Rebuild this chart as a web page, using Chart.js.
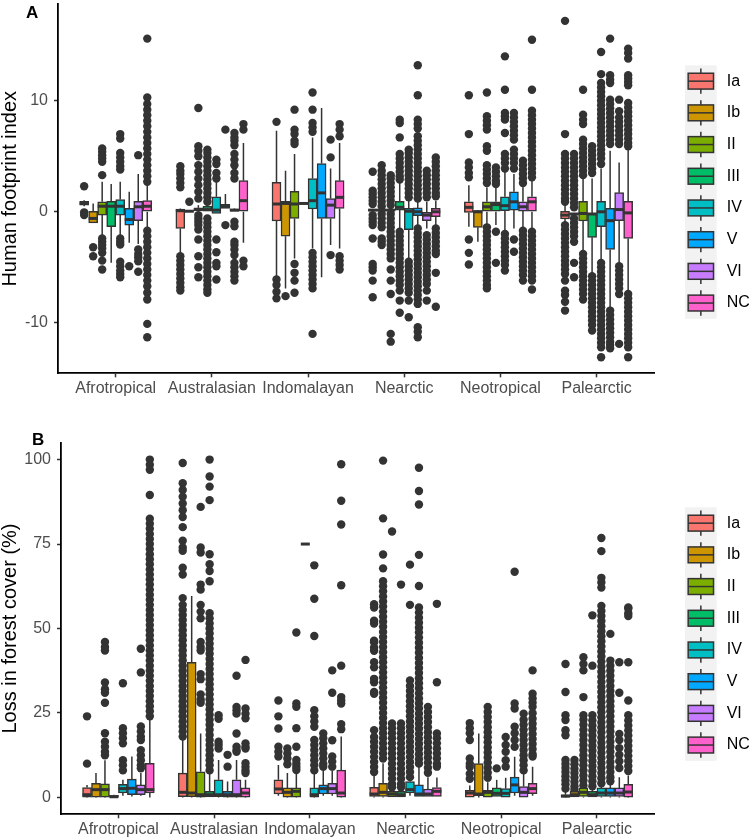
<!DOCTYPE html>
<html>
<head>
<meta charset="utf-8">
<script src="https://cdn.jsdelivr.net/npm/chart.js@4.4.0/dist/chart.umd.min.js"></script>
<style>
  body { margin: 0; background: #fff; }
  .painel { position: absolute; left: 0; width: 749px; height: 420px; }
  #painelA { top: 0; }
  #painelB { top: 420px; }
</style>
</head>
<body>
<div class="painel" id="painelA"><canvas id="chartA" width="749" height="420"></canvas></div>
<div class="painel" id="painelB"><canvas id="chartB" width="749" height="420"></canvas></div>
<script>
const regions = ['Afrotropical', 'Australasian', 'Indomalayan', 'Nearctic', 'Neotropical', 'Palearctic'];
const classes = ['Ia', 'Ib', 'II', 'III', 'IV', 'V', 'VI', 'NC'];
const hfpTicks = [-10, 0, 10];
const lossTicks = [0, 25, 50, 75, 100];

// [low whisker, q1, median, q3, high whisker] per class, per region
const hfpStats = [
  [[0.5, 0.6, 0.75, 0.95, 1.05], [-3.9, -1.5, 0.1, 0.25, 0.3], [-5.8, -0.83, 0.7, 2.65, 7.3], [0.1, 0.1, 0.15, 0.2, 0.2], [-1.35, -0.06, 0.4, 0.9, 2.4], [-1.0, -0.65, -0.3, 0.05, 0.7]],
  [[-1.0, -1.0, -0.6, 0.05, 0.75], [0, 0, 0.05, 0.1, 0.1], [-6.9, -2.2, 0.75, 0.95, 3.7], [0.1, 0.1, 0.15, 0.2, 0.2], [-2.7, -1.4, 0.0, 0.1, 0.15], [-0.2, -0.2, -0.2, -0.15, -0.15]],
  [[-2.2, -0.3, 0.5, 0.9, 2.7], [0.1, 0.1, 0.2, 0.35, 0.6], [-4.2, -0.6, 0.7, 1.85, 5.2], [0.1, 0.1, 0.15, 0.2, 0.2], [-1.2, 0.0, 0.45, 0.9, 2.2], [-3.6, -0.83, -0.15, 0.95, 3.0]],
  [[-4.6, -1.35, 0.5, 0.95, 2.5], [0, 0, 0.2, 0.5, 0.7], [0.75, 0.75, 0.75, 0.75, 0.75], [-1.5, 0.15, 0.4, 0.95, 2.7], [-1.2, 0.0, 0.65, 0.9, 2.3], [-5.6, -2.3, -0.2, -0.15, 3.0]],
  [[-2.1, -0.3, 0.5, 1.1, 2.7], [-0.15, -0.15, 0.15, 1.35, 2.7], [-3.3, 0.25, 1.0, 3.0, 6.7], [-4.3, -1.6, 0.05, 0.3, 1.0], [-1.8, 0.1, 0.55, 1.35, 3.7], [-4.4, -1.35, 0.0, 0.95, 3.9]],
  [[-2.8, -1.2, -0.7, 0.3, 1.8], [0.3, 0.3, 0.5, 0.68, 1.6], [-5.9, -0.6, 1.7, 4.35, 9.35], [-1.3, -0.35, 0.0, 0.35, 1.0], [-1.5, 0.15, 0.9, 1.8, 3.4], [-8.7, -3.4, -0.8, 0.3, 5.5]],
  [[-2.9, -0.8, 0.45, 0.95, 3.4], [0.05, 0.05, 0.15, 0.25, 0.3], [-3.0, -0.6, 0.6, 1.2, 3.9], [-1.5, -0.8, -0.3, -0.05, 0.9], [-1.5, 0.06, 0.45, 0.9, 2.3], [-4.6, -0.8, 0.2, 1.72, 4.45]],
  [[-1.5, 0.0, 0.5, 1.0, 2.5], [-2.8, 0.0, 1.0, 2.8, 6.2], [-3.3, 0.3, 1.3, 2.8, 6.2], [-1.2, -0.45, 0.0, 0.3, 1.0], [-1.6, 0.0, 0.9, 1.35, 2.8], [-7.2, -2.4, -0.1, 0.95, 5.6]]
];

const hfpOutliers = [
  [ // Ia
    [2.3, -0.05, -0.3],
    [4.1, 3.7, 3.4, 3.0, 2.6, 2.2, -4.0, -4.4, -4.8, -5.2, -5.6, -6.0, -6.4, -6.8, -7.1],
    [8.1, -6.1, -6.6, -7.2, -7.8],
    [3.6, 1.9, 1.6, 1.3, 1.0, 0.7, -0.3, -0.6, -0.9, -1.2, -2.4, -4.7, -5.0, -5.3, -6.2, -7.7],
    [10.5, 7.0, 4.45, 4.0, 3.5, 3.1, -2.5, -3.7, -4.75],
    [17.2, 7.0, 5.2, 4.8, 4.4, 4.0, 3.6, 3.2, 2.8, 2.4, 2.0, 1.6, 1.2, 0.9, -1.2, -1.6, -2.0, -2.4, -2.8, -3.2, -3.6, -4.0, -4.4, -4.8, -5.2, -5.6, -6.2, -7.1, -7.5, -8.1, -8.9]
  ],
  [ // Ib
    [-3.2, -4.0],
    [0.9],
    [-7.6],
    [4.2, 3.7, 3.3, 2.9, 2.5, 2.1, 1.7, 1.3, 0.9, 0.5, -0.2, -0.6, -1.0, -1.4, -2.4, -2.7, -3.0],
    [],
    [5.2, 4.8, 4.4, 4.0, 3.6, 3.2, 2.8, 2.4, 2.0, 1.6, 1.2, 0.8, 0.4, -0.6, -1.0, -1.4, -1.8, -2.2, -2.7, -4.6, -5.9]
  ],
  [ // II
    [5.7, 5.4, 5.1, 4.8, 4.5, 3.3, -2.4, -2.7, -3.0, -3.3, -3.7, -4.4, -5.2],
    [9.35, 5.9, 5.5, 5.0, 4.2, 3.6, 3.0, 2.4, 1.8, 1.2, -0.3, -0.6, -0.9, -1.2, -1.6, -2.5, -4.0, -5.0, -5.9],
    [9.2, 7.4, 7.0, 6.4, 6.1, -4.7, -5.5, -6.2, -7.3],
    [3.3, 3.0, 2.6, 2.2, 1.8, 1.4, 1.0, 0.6, -0.2, -0.6, -1.0, -1.4, -1.8, -2.2, -2.6, -3.0, -3.4, -3.8, -4.2, -5.2, -6.2, -7.4, -11.0, -11.7],
    [10.75, 8.6, 8.2, 7.8, 7.4, 5.9, 5.5, 4.2, 3.8, 3.4, 3.0, 2.6, -1.4, -1.8, -2.2, -2.6, -3.0, -3.4, -3.8, -4.2, -4.6, -5.0, -5.4, -5.8, -6.2, -6.6, -6.9],
    [11.0, 8.75, 8.3, 7.9, 6.5, 6.1, 5.7, 5.3, 4.9, 4.5, 4.1, 3.7, 3.3, -3.8, -4.2, -4.6, -5.0, -5.4, -5.8, -6.2, -6.6, -7.0, -7.4, -7.9]
  ],
  [ // III
    [],
    [5.6, 5.3, 4.9, 4.5, 4.1, 3.7, 3.3, 2.9, 2.5, 2.1, 1.7, 1.3, 0.9, -0.6, -1.0, -1.4, -1.8, -2.2, -2.6, -3.0, -3.4, -3.8, -4.2, -4.6, -5.0, -5.4, -5.8, -6.2, -6.6, -7.0, -7.3],
    [],
    [8.3, 8.0, 6.7, 5.2, 4.8, 4.4, 4.0, 3.6, 3.2, 2.9, -1.8, -2.2, -2.6, -3.0, -3.4, -3.8, -4.2, -4.6, -5.0, -5.4, -5.8, -6.2, -6.6, -7.1, -8.0, -9.1],
    [4.0, 3.6, 3.2, 2.8, 2.5, -1.8, -4.6],
    [5.9, 5.5, 5.1, 4.7, 4.3, 3.9, 3.5, -5.8, -6.2, -6.6, -7.0, -7.4, -7.8, -8.2, -8.6, -9.0, -9.4, -9.8, -10.2, -10.7]
  ],
  [ // IV
    [7.0, 6.6, 5.3, 4.9, 4.5, 4.1, 3.8, -2.4, -2.7, -2.95, -4.5, -4.9, -5.3, -5.6, -5.9],
    [4.7, 4.3, 3.5, 3.0, -2.5, -3.65, -4.6, -4.9, -6.1],
    [10.75, 9.2, 8.0, 7.6, 7.2, -3.7, -4.1, -4.5, -4.9, -5.3, -5.7, -6.1, -6.5, -6.9, -11.0],
    [5.6, 5.3, 4.9, 4.5, 4.1, 3.7, 3.3, 2.9, 2.5, 2.1, 1.7, 1.3, -4.5, -4.9, -5.3, -5.7, -6.1, -6.5, -6.9, -7.3, -8.0, -9.5],
    [14.0, 11.0, 8.9, 8.6, 8.3, 7.1, 5.2, 4.8, 4.4, 3.9, -2.0, -2.4, -2.8, -3.2, -3.6, -4.0, -4.4, -4.8, -5.3],
    [14.4, 12.4, 11.6, 11.2, 10.8, 10.4, 10.0, 9.6, 9.2, 8.8, 8.4, 8.0, 7.6, 7.2, 6.8, 6.4, 6.0, 5.6, 5.2, 4.8, 4.3, -4.6, -5.0, -5.4, -5.8, -6.2, -6.6, -7.0, -7.4, -7.8, -8.2, -8.6, -9.0, -9.4, -9.8, -10.2, -10.6, -11.0, -11.4, -11.8, -12.2, -13.1]
  ],
  [ // V
    [-4.9],
    [7.4, -1.2],
    [],
    [13.2, 10.5, 8.3, 7.9, 7.5, 6.8, 6.4, 6.0, 5.6, 5.2, 4.8, 4.4, 4.0, 3.6, 3.2, 2.8, 2.4, 2.0, 1.6, 1.2, -1.5, -1.9, -2.3, -2.7, -3.1, -3.5, -3.9, -4.3, -4.7, -5.1, -5.5, -5.9, -6.3, -6.7, -7.1, -7.5, -7.9, -8.3, -10.4, -10.8, -11.3],
    [8.9, 8.5, 8.1, 7.7, 7.3, 6.9, 6.5, 5.6, 5.2, 4.8, 4.4, 3.9, -2.5, -3.6],
    [15.6, 12.3, 11.9, 11.6, 10.1, 9.7, 9.3, 8.9, 8.5, 8.1, 7.7, 7.3, 6.9, 6.5, 6.1, -8.9, -9.3, -9.7, -10.1, -10.5, -10.9, -11.3, -11.7, -12.0, -12.3]
  ],
  [ // VI
    [5.1, -3.4, -3.8, -4.1, -4.45, -5.4],
    [7.1, 6.7, 6.4, 6.0, 5.2, 4.7, 4.2, 3.5, 3.0, -0.9, -1.3, -2.7, -3.0, -3.4, -3.9, -4.6, -5.0, -5.4, -5.8, -6.2],
    [6.5, 4.9, -3.9],
    [3.7, 3.3, 2.9, 2.5, 2.1, 1.7, 1.3, -2.1, -2.5, -2.9, -3.3, -3.7, -4.1, -4.5, -4.9, -5.3, -5.7, -6.1, -6.5, -7.1, -8.0],
    [4.6, 4.2, 3.8, 3.4, 3.0, 2.6, -1.7, -2.1, -2.5, -2.9, -3.3, -3.7, -4.1, -4.5, -4.9, -5.3, -5.7, -6.2],
    [10.1, 9.05, 8.5, 8.1, 7.7, 7.3, 6.9, 6.5, 6.1, -4.9, -5.3, -5.7, -6.1, -6.5, -6.9, -7.4, -11.9]
  ],
  [ // NC
    [15.6, 10.3, 9.7, 9.2, 8.7, 8.2, 7.7, 7.2, 6.7, 6.2, 5.7, 5.2, 4.7, 4.2, 3.7, 3.2, 2.7, -1.7, -2.2, -2.7, -3.2, -3.7, -4.2, -4.7, -5.2, -5.7, -6.2, -6.7, -7.3, -7.9, -10.1, -11.3],
    [7.9, 7.4, -4.4, -4.9],
    [7.9, 7.4, 6.8, -4.0, -4.4, -4.8, -5.2],
    [4.9, 4.5, 4.1, 3.7, 3.3, 2.9, 2.5, 2.1, 1.7, 1.4, -1.5, -1.9, -2.3, -2.7, -3.1, -3.5, -3.8, -5.5, -8.55],
    [15.5, 11.0, 9.1, 8.7, 8.3, 7.9, 7.5, 7.1, 6.7, 6.3, 5.9, 5.5, 5.1, 4.7, 4.3, 3.9, 3.5, 3.1, -1.8, -2.2, -2.6, -3.0, -3.4, -3.8, -4.2, -4.6, -5.0, -5.4, -5.8, -6.2, -7.0],
    [14.7, 14.3, 13.8, 12.3, 12.0, 11.7, 11.4, 9.8, 9.4, 9.0, 8.6, 8.2, 7.8, 7.4, 7.0, 6.6, 6.2, 5.9, -7.4, -7.8, -8.2, -8.6, -9.0, -9.4, -9.8, -10.2, -10.6, -11.0, -11.4, -11.8, -12.2, -13.1]
  ]
];

const lossStats = [
  [[0, 0.1, 0.8, 2.9, 3.7], [0, 0.2, 1.5, 7.2, 17], [0.5, 1.0, 2.5, 5.2, 9.6], [0, 0.3, 1.0, 3.0, 6.5], [0.1, 0.1, 1.3, 2.1, 3.5], [0, 0.1, 0.4, 0.8, 1.8]],
  [[0, 0.1, 2.3, 4.2, 7.2], [0, 0.2, 1.3, 40, 59.6], [0, 0.1, 1.5, 2.8, 7.2], [0, 0.3, 1.5, 4.2, 10.1], [0, 0.5, 1.0, 10, 18.9], [0, 0, 0.8, 1.8, 1.8]],
  [[0, 0.1, 2.3, 4.0, 11], [0, 0.1, 0.8, 7.6, 18.9], [0, 0.1, 1.8, 2.8, 7.2], [0, 0, 1.0, 1.8, 2.3], [0.1, 0.1, 1.5, 2.1, 4.5], [0, 0.3, 1.5, 2.8, 3.0]],
  [[0, 0, 0.2, 0.6, 0.8], [0, 0, 0.8, 1.8, 7.0], [75, 75, 75, 75, 75], [0, 0, 0.8, 1.8, 2.5], [0.3, 0.3, 1.2, 2.8, 5.2], [0, 0, 0.8, 1.8, 2.5]],
  [[0.5, 1.3, 2.6, 3.9, 5.2], [0, 0.2, 0.8, 5.2, 11.1], [0, 0.1, 0.8, 2.8, 7.2], [0.5, 1.3, 2.3, 4.7, 5.5], [0.1, 0.1, 1.2, 2.6, 5.8], [0, 0.3, 1.3, 2.8, 3.5]],
  [[0.3, 0.8, 2.7, 5.4, 12.1], [0, 0.1, 0.8, 1.8, 4.7], [0.5, 1.0, 2.6, 3.7, 8.6], [0.3, 0.3, 1.0, 3.7, 9], [0.5, 1.3, 3.7, 6.0, 12], [0, 0.3, 1.3, 2.8, 3.7]],
  [[0.5, 0.8, 2.3, 3.7, 7.2], [0, 0.1, 0.8, 5.2, 11.1], [0.5, 1.0, 2.6, 4.2, 8], [0.3, 0.3, 1.0, 2.5, 6], [0.1, 0.1, 1.5, 3.2, 7], [0, 0.3, 1.3, 2.8, 6]],
  [[0, 1.3, 2.3, 10.1, 23], [0, 0.1, 1.3, 2.8, 5.2], [0, 0.1, 1.3, 8.1, 18], [0.3, 0.3, 1.8, 2.9, 5.9], [0.5, 1.1, 2.6, 4.2, 9.1], [0, 0.1, 1.6, 3.9, 6.5]]
];

const lossOutliers = [
  [ // Ia
    [24, 10],
    [99, 93, 91, 89, 87, 85, 83, 80, 76, 74, 73, 68, 66, 59, 57, 55.5, 54, 52.5, 51, 49.5, 48, 46.5, 45, 43.5, 42, 40.5, 39, 37.5, 36, 34.5, 33, 31.5, 30, 28.5, 27, 25.5, 24, 22.5, 21, 19.5, 18],
    [28.7, 24, 20.4, 15, 13.5, 12.1],
    [57.2, 56.2, 52.3, 51.5, 46.4, 45.9, 44.4, 43.4, 40, 38.5, 35.1, 34.1, 31.2, 30.7, 19.9, 17.9, 16.5, 15, 13.5, 12, 10.5, 9, 7.5],
    [22, 20.5, 19, 17, 11.5, 10, 9, 7, 5.5],
    [39.5, 31.2, 24.3, 22.9, 19.9, 18.4, 11.1, 9.9, 8.7, 7.5, 6.3, 5.1, 3.9, 2.6]
  ],
  [ // Ib
    [],
    [],
    [14.5, 13, 11.5, 9.8],
    [99.7, 82.6, 71.9, 67.8, 64, 62.5, 61, 59.5, 58, 56.5, 55, 53.5, 52, 50.5, 49, 47.5, 46, 44.5, 43, 41.5, 40, 38.5, 37, 35.5, 34, 32.5, 31, 29.5, 28, 26.5, 25, 23.5, 22, 20.5, 19, 17.5, 16, 14.5, 13, 11.5],
    [],
    [11.1, 9.8, 8.5, 7.2, 5.9, 4.6, 3.3, 2.3]
  ],
  [ // II
    [46, 44.5, 43.5, 34, 32, 31, 28, 19, 16.5, 15, 13.5, 12.5],
    [86, 74, 72.5, 63, 61.5, 57, 55, 53, 46, 44.5, 43.5, 36.5, 35, 30.5, 29, 28],
    [48.8, 27.8, 26.8, 20.5, 15, 11.1, 10, 9, 8.1],
    [78.7, 21.9, 20.5, 19, 17.5, 16, 14.5, 13, 11.5, 10, 8.5, 7, 5.5, 4, 3],
    [26.8, 25.3, 23.8, 22.3, 20.8, 19.3, 17.8, 16.3, 14.8, 13.3, 11.8, 10.3, 8.8, 7.3, 5.8],
    [41.5, 39.5, 37.6, 29.7, 24.3, 23, 21.5, 20, 18.5, 17, 15.5, 14, 12.5, 11, 9.5, 8, 6.5, 5, 3.5]
  ],
  [ // III
    [],
    [100, 95, 92, 88, 72, 69, 67, 64, 54.5, 53, 51.5, 50, 48.5, 47, 45.5, 44, 42.5, 41, 39.5, 38, 36.5, 35, 33.5, 32, 30.5, 29, 27.5, 26, 24.5, 23, 21.5, 20, 18.5, 17, 15.5, 14, 12.5, 11, 9.5, 8],
    [],
    [63, 21.9, 20.5, 19, 17.5, 16, 14.5, 13, 11.5, 10, 8.5, 7, 5.5, 4, 3],
    [8.6],
    [53.9, 39, 24.3, 22.8, 21.3, 19.8, 18.3, 16.8, 15.3, 13.8, 12.3, 10.8, 9.3, 7.8, 6.3, 4.8, 3.3]
  ],
  [ // IV
    [33.8, 20.5, 19, 17.5, 16, 11, 9.5, 8],
    [24.3, 23.3, 16.5, 15.5, 14.5],
    [68.7, 58.8, 47.8, 25.8, 24, 22.5, 20.9, 17, 15.5, 14, 12.5, 11, 9.5, 8],
    [68.9, 57, 34.6, 33, 31.5, 30, 28.5, 27, 25.5, 24, 22.5, 21, 19.5, 18, 16.5, 15, 13.5, 12, 10.5, 9, 7.5, 6],
    [17.9, 15.5, 13.5, 11, 9.1],
    [76.8, 72.9, 65, 63.6, 62.1, 56.7, 55.2, 53.7, 52.2, 50.7, 49.2, 47.7, 46.2, 44.7, 43.2, 41.7, 40.2, 38.7, 37.2, 35.7, 34.2, 32.7, 31.2, 29.7, 28.2, 26.7, 25.2, 23.7, 22.2, 20.7, 19.2, 17.7, 16.2, 14.7, 13.2, 11.7, 10.2, 8.7, 7.2, 5.7, 4.2]
  ],
  [ // V
    [],
    [12.6, 9.1],
    [18.9, 17.5, 16, 14.5, 13, 11.5, 10, 9.1],
    [97.6, 90.7, 86.7, 71.8, 62.6, 56.2, 54.7, 53.2, 51.7, 50.2, 48.8, 47.3, 45.8, 44.3, 42.8, 41.3, 39.8, 38.3, 36.8, 35.3, 33.8, 32.3, 30.8, 29.3, 27.8, 26.3, 24.8, 23.3, 21.8, 20.3, 18.8, 17.3, 15.8, 14.3, 12.8, 11.3, 10],
    [66.8, 27.8, 26.3, 20.9, 19, 17, 15],
    [48.4, 40.5, 39, 37.5, 36, 34.5, 33, 31.5, 30, 28.5, 27, 25.5, 24, 22.5, 21, 19.5, 18, 16.5, 15, 13.5, 12, 10.5, 9, 7.5, 6, 4.8]
  ],
  [ // VI
    [44, 37, 21, 19.5, 18, 17, 14, 12.5, 11, 9.5, 8.6],
    [36, 26.8, 25.8, 24.8, 18.9, 15, 14, 13.5],
    [37.6, 31, 16.9, 12.1, 10.6, 9.1],
    [26.8, 25.3, 23.8, 22.3, 20.8, 19.3, 17.8, 16.3, 14.8, 13.3, 11.8, 10.3, 8.8, 7.3],
    [24.8, 23, 21.5, 20, 18.5, 17, 15.5, 14, 12.5, 11, 9.5, 8],
    [40, 31, 18.8, 17, 14.6, 12.6, 10.7, 8.7]
  ],
  [ // NC
    [100, 98.5, 97, 89.5, 82.5, 81, 79.5, 78, 76.5, 75, 73.5, 72, 70.5, 69, 67.5, 66, 64.5, 63, 61.5, 60, 58.5, 57, 55.5, 54, 52.5, 51, 49.5, 48, 46.5, 45, 43.5, 42, 40.5, 39, 37.5, 36, 34.5, 33, 31.5, 30, 28.5, 27, 25.5, 24],
    [40.7, 26.3, 24.8, 23.4, 16, 15, 14.5, 10.1, 9, 8, 7.2],
    [98.6, 87.8, 80.8, 62.8, 39, 29.7, 28.7, 27.8, 21.7, 20.2],
    [57.3, 34.1, 18.9, 17.5, 16, 14.5, 13, 11.5, 10, 9.1],
    [37.6, 30.7, 29.3, 28, 26.8, 24.9, 23.3, 21.8, 20.3, 18.8, 17.3, 15.8, 14.3, 12.8, 12.1],
    [56.2, 55.9, 54.5, 53.7, 40, 28.7, 24.3, 22.8, 21.3, 19.8, 18.3, 16.8, 15.3, 13.8, 12.3, 10.8, 9.3, 7.8]
  ]
];

const classColors = ['#F8766D', '#CD9600', '#7CAE00', '#00BE67', '#00BFC4', '#00A9FF', '#C77CFF', '#FF61CC'];
const FONTE = '"Liberation Sans", Arial, Helvetica, sans-serif';
const LINHA = '#333333';
const DODGE = 0.75;
const BOX_PX = 9;

// posição de cada caixa dentro da região (dodge do ggplot)
function boxX(r, k) {
  return r + 1 + (k - (classes.length - 1) / 2) * DODGE / classes.length;
}

function montarDatasets(stats, outliers) {
  const caixas = classes.map((nome, k) => ({
    type: 'bar',
    label: nome,
    data: regions.map((reg, r) => ({ x: boxX(r, k), y: [stats[k][r][1], stats[k][r][3]] })),
    backgroundColor: classColors[k],
    borderColor: LINHA,
    borderWidth: 1.5,
    borderSkipped: false,
    grouped: false,
    barPercentage: 1,
    categoryPercentage: 1,
    maxBarThickness: BOX_PX,
    order: 1
  }));
  const pontos = classes.map((nome, k) => ({
    type: 'scatter',
    label: nome + ' outliers',
    data: regions.flatMap((reg, r) => outliers[k][r].map(v => ({ x: boxX(r, k), y: v }))),
    backgroundColor: LINHA,
    borderColor: LINHA,
    pointRadius: 4.2,
    pointBorderWidth: 0,
    order: 2
  }));
  return caixas.concat(pontos);
}

// bigodes antes das caixas, medianas depois
const boxLines = {
  id: 'boxLines',
  beforeDatasetsDraw(chart, args, opts) {
    const { ctx, scales: { x, y } } = chart;
    ctx.save();
    ctx.strokeStyle = LINHA;
    ctx.lineWidth = 1.5;
    opts.stats.forEach((porRegiao, k) => porRegiao.forEach((s, r) => {
      const px = x.getPixelForValue(boxX(r, k));
      ctx.beginPath();
      ctx.moveTo(px, y.getPixelForValue(s[0]));
      ctx.lineTo(px, y.getPixelForValue(s[1]));
      ctx.moveTo(px, y.getPixelForValue(s[3]));
      ctx.lineTo(px, y.getPixelForValue(s[4]));
      ctx.stroke();
    }));
    ctx.restore();
  },
  afterDatasetsDraw(chart, args, opts) {
    const { ctx, scales: { x, y } } = chart;
    ctx.save();
    ctx.strokeStyle = LINHA;
    ctx.lineWidth = 3;
    opts.stats.forEach((porRegiao, k) => porRegiao.forEach((s, r) => {
      const px = x.getPixelForValue(boxX(r, k));
      const py = y.getPixelForValue(s[2]);
      ctx.beginPath();
      ctx.moveTo(px - BOX_PX / 2, py);
      ctx.lineTo(px + BOX_PX / 2, py);
      ctx.stroke();
    }));
    ctx.restore();
  }
};

// legenda no estilo ggplot + letra do painel
const boxLegend = {
  id: 'boxLegend',
  afterDraw(chart, args, opts) {
    const ctx = chart.ctx;
    const { left, top, size, tag, tagX, tagY } = opts;
    ctx.save();
    ctx.fillStyle = '#F2F2F2';
    ctx.fillRect(left, top, size, size * classes.length);
    ctx.lineWidth = 1.5;
    ctx.strokeStyle = LINHA;
    classes.forEach((nome, k) => {
      const y0 = top + k * size;
      const cx = left + size / 2;
      ctx.beginPath();
      ctx.moveTo(cx, y0 + size * 0.1);
      ctx.lineTo(cx, y0 + size * 0.25);
      ctx.moveTo(cx, y0 + size * 0.75);
      ctx.lineTo(cx, y0 + size * 0.9);
      ctx.stroke();
      ctx.fillStyle = classColors[k];
      ctx.fillRect(left + size * 0.1, y0 + size * 0.25, size * 0.8, size * 0.5);
      ctx.strokeRect(left + size * 0.1, y0 + size * 0.25, size * 0.8, size * 0.5);
      ctx.beginPath();
      ctx.moveTo(left + size * 0.1, y0 + size * 0.5);
      ctx.lineTo(left + size * 0.9, y0 + size * 0.5);
      ctx.stroke();
      ctx.fillStyle = '#000';
      ctx.font = '16px ' + FONTE;
      ctx.textBaseline = 'middle';
      ctx.textAlign = 'left';
      ctx.fillText(nome, left + size + 10, y0 + size / 2);
    });
    ctx.font = 'bold 17px ' + FONTE;
    ctx.textBaseline = 'alphabetic';
    ctx.fillStyle = '#000';
    ctx.fillText(tag, tagX, tagY);
    ctx.restore();
  }
};

function criarPainel(canvasId, stats, outliers, ticks, yMin, yMax, yTitulo, look) {
  const ctx = document.getElementById(canvasId).getContext('2d');
  return new Chart(ctx, {
    type: 'bar',
    data: { datasets: montarDatasets(stats, outliers) },
    plugins: [boxLines, boxLegend],
    options: {
      responsive: false,
      animation: false,
      devicePixelRatio: 1,
      events: [],
      layout: { padding: { left: 0, top: look.top, right: 94.7, bottom: 0 } },
      plugins: {
        legend: { display: false },
        tooltip: { enabled: false },
        boxLines: { stats },
        boxLegend: { left: 685, top: look.legendTop, size: 31.7, tag: look.tag, tagX: look.tagX, tagY: look.tagY }
      },
      scales: {
        x: {
          type: 'linear',
          min: 0.4,
          max: 6.6,
          offset: false,
          afterBuildTicks: s => { s.ticks = regions.map((reg, i) => ({ value: i + 1 })); },
          afterFit: s => { s.height = look.xHeight; s.paddingLeft = 0; s.paddingRight = 0; },
          ticks: {
            callback: v => regions[v - 1],
            color: '#4D4D4D',
            font: { family: FONTE, size: 16 },
            padding: 2,
            maxRotation: 0,
            autoSkip: false
          },
          grid: { offset: false, drawOnChartArea: false, drawTicks: true, tickLength: 4, tickColor: LINHA, tickWidth: 1.5 },
          border: { display: true, color: '#000', width: 1.8 }
        },
        y: {
          type: 'linear',
          min: yMin,
          max: yMax,
          afterBuildTicks: s => { s.ticks = ticks.map(v => ({ value: v })); },
          afterFit: s => { s.width = look.yWidth; s.paddingTop = 0; s.paddingBottom = 0; },
          ticks: {
            callback: v => String(v),
            color: '#4D4D4D',
            font: { family: FONTE, size: 16 },
            padding: 6
          },
          grid: { offset: false, drawOnChartArea: false, drawTicks: true, tickLength: 4, tickColor: LINHA, tickWidth: 1.5 },
          border: { display: true, color: '#000', width: 1.8 },
          title: {
            display: true,
            text: yTitulo,
            color: '#000',
            font: { family: FONTE, size: 20, lineHeight: 1 },
            padding: { top: 0, bottom: 0 }
          }
        }
      }
    }
  });
}

criarPainel('chartA', hfpStats, hfpOutliers, hfpTicks, -14.55, 18.7, 'Human footprint index',
  { top: 0, xHeight: 46.7, yWidth: 58, legendTop: 65.3, tag: 'A', tagX: 26, tagY: 18.3 });
criarPainel('chartB', lossStats, lossOutliers, lossTicks, -5, 105, 'Loss in forest cover (%)',
  { top: 22.7, xHeight: 25.7, yWidth: 61, legendTop: 87.3, tag: 'B', tagX: 32, tagY: 25 });
</script>
</body>
</html>
